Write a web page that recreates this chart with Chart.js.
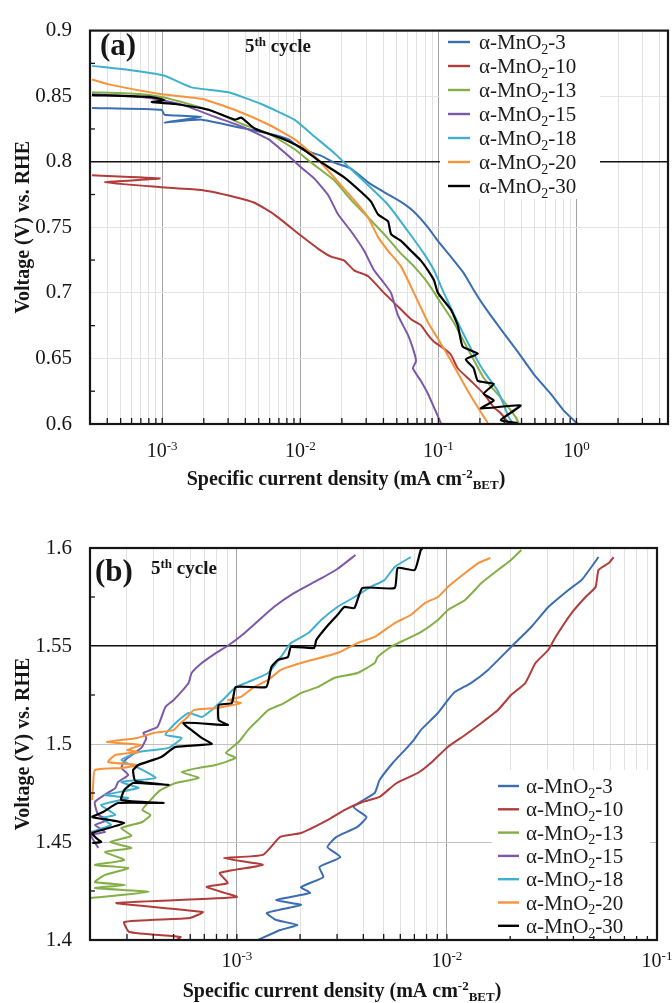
<!DOCTYPE html>
<html>
<head>
<meta charset="utf-8">
<title>alpha-MnO2 polarisation curves</title>
<script src="https://cdn.jsdelivr.net/npm/chart.js@4.4.1/dist/chart.umd.min.js"></script>
<style>
  html, body { margin: 0; padding: 0; background: #fff; }
  .panel { position: absolute; left: 0; width: 672px; }
</style>
</head>
<body>
<div class="panel" style="top:0;height:500px"><canvas id="chartA" width="672" height="500"></canvas></div>
<div class="panel" style="top:500px;height:503px"><canvas id="chartB" width="672" height="503"></canvas></div>
<script>
(() => {
  'use strict'

  // Series (the "2" in MnO2 is drawn as a subscript)
  const seriesLabels = ['α-MnO2-3', 'α-MnO2-10', 'α-MnO2-13', 'α-MnO2-15', 'α-MnO2-18', 'α-MnO2-20', 'α-MnO2-30'];
  const seriesColors = ['#3B6DB3', '#B23C3A', '#84AF47', '#7B58A8', '#40B0CF', '#F7933B', '#000000'];

  // Tick labels
  const voltTicksA = [0.6, 0.65, 0.7, 0.75, 0.8, 0.85, 0.9];
  const voltTicksB = [1.4, 1.45, 1.5, 1.55, 1.6];
  const decadesA = [-3, -2, -1, 0];
  const decadesB = [-3, -2, -1];

  // (a) current density (mA cm-2 BET) and voltage (V vs RHE)
  const a3J = [3.1e-4, 9.9e-4, 1.04e-3, 1.93e-3, 1.04e-3, 1.93e-3, 3.34e-3, 5.87e-3, 8.19e-3, 0.0102, 0.0142, 0.0176, 0.0233, 0.031, 0.0404, 0.0536, 0.0665, 0.084, 0.0992, 0.123, 0.153, 0.180, 0.213, 0.283, 0.375, 0.490, 0.649, 0.806, 1.02];
  const a3V = [0.841, 0.8396, 0.8358, 0.8343, 0.8299, 0.8321, 0.8269, 0.8216, 0.8172, 0.8097, 0.8045, 0.7993, 0.7948, 0.7843, 0.7769, 0.7694, 0.7619, 0.750, 0.7396, 0.7276, 0.7149, 0.7022, 0.6903, 0.6724, 0.6552, 0.6381, 0.6231, 0.6104, 0.6];
  const a10J = [3.1e-4, 9.6e-4, 3.85e-4, 9.9e-4, 1.93e-3, 3.34e-3, 4.66e-3, 6.49e-3, 0.0102, 0.0135, 0.0167, 0.0208, 0.0245, 0.031, 0.0404, 0.0536, 0.0633, 0.0747, 0.084, 0.0929, 0.1096, 0.123, 0.138, 0.172, 0.213, 0.252, 0.283, 0.318];
  const a10V = [0.7896, 0.7873, 0.7843, 0.7806, 0.7784, 0.7731, 0.7687, 0.7597, 0.7433, 0.7336, 0.7276, 0.7246, 0.7172, 0.7127, 0.700, 0.6873, 0.6799, 0.6754, 0.6679, 0.6627, 0.6575, 0.653, 0.6425, 0.6328, 0.6231, 0.6127, 0.6082, 0.6015];
  const a13J = [3.1e-4, 7.11e-4, 9.9e-4, 1.55e-3, 2.39e-3, 3.75e-3, 5.87e-3, 9.05e-3, 0.012, 0.0176, 0.0233, 0.031, 0.0404, 0.0536, 0.0665, 0.084, 0.104, 0.129, 0.163, 0.213, 0.283, 0.363, 0.381];
  const a13V = [0.853, 0.8515, 0.8493, 0.844, 0.838, 0.829, 0.8216, 0.8097, 0.7993, 0.7858, 0.7709, 0.7575, 0.7448, 0.7299, 0.7202, 0.7075, 0.6925, 0.6776, 0.6575, 0.6351, 0.6201, 0.6052, 0.6007];
  const a15J = [3.1e-4, 7.1e-4, 9.9e-4, 1.55e-3, 2.39e-3, 3.75e-3, 5.87e-3, 8.19e-3, 0.0102, 0.0126, 0.0159, 0.0188, 0.0233, 0.029, 0.0342, 0.0404, 0.0454, 0.051, 0.0602, 0.0665, 0.0688, 0.0654, 0.0747, 0.084, 0.0929, 0.1042];
  const a15V = [0.8515, 0.8493, 0.847, 0.8418, 0.8343, 0.8269, 0.8172, 0.8045, 0.7955, 0.7873, 0.7746, 0.7597, 0.747, 0.7321, 0.7172, 0.7075, 0.700, 0.6828, 0.6679, 0.6552, 0.6478, 0.6425, 0.6328, 0.6231, 0.6127, 0.6007];
  const a18J = [3.1e-4, 6.33e-4, 1.03e-3, 1.63e-3, 3.02e-3, 5.22e-3, 9.05e-3, 0.0126, 0.0176, 0.0208, 0.031, 0.0432, 0.0602, 0.0786, 0.0929, 0.1096, 0.138, 0.172, 0.213, 0.269, 0.323, 0.345];
  const a18V = [0.8731, 0.8694, 0.8657, 0.8567, 0.853, 0.844, 0.8321, 0.8194, 0.8067, 0.7993, 0.7821, 0.7672, 0.747, 0.7299, 0.7172, 0.700, 0.6776, 0.6575, 0.6403, 0.6254, 0.6052, 0.6007];
  const a20J = [3.1e-4, 4.11e-4, 9.9e-4, 1.93e-3, 3.34e-3, 5.87e-3, 9.05e-3, 0.0126, 0.0176, 0.0262, 0.031, 0.0366, 0.0432, 0.0536, 0.0665, 0.084, 0.0992, 0.123, 0.163, 0.193, 0.228];
  const a20V = [0.8627, 0.859, 0.8515, 0.848, 0.8396, 0.8284, 0.8172, 0.8045, 0.788, 0.7672, 0.7575, 0.7425, 0.7321, 0.7202, 0.700, 0.6776, 0.665, 0.6485, 0.6254, 0.6127, 0.6007];
  const a30J = [3.1e-4, 8.39e-4, 1.04e-3, 8.4e-4, 1.23e-3, 2.17e-3, 3.34e-3, 3.75e-3, 4.66e-3, 7.29e-3, 0.0102, 0.0135, 0.0208, 0.0276, 0.0326, 0.0366, 0.0432, 0.0454, 0.0536, 0.0633, 0.0747, 0.084, 0.0929, 0.0992, 0.123, 0.138, 0.150, 0.193, 0.158, 0.180, 0.193, 0.252, 0.213, 0.252, 0.203, 0.394, 0.283, 0.375];
  const a30V = [0.8508, 0.8493, 0.847, 0.8455, 0.844, 0.8396, 0.8321, 0.8336, 0.8254, 0.8179, 0.8105, 0.801, 0.7881, 0.7769, 0.7694, 0.7597, 0.7545, 0.7448, 0.7396, 0.7321, 0.7246, 0.7172, 0.7097, 0.700, 0.6873, 0.6754, 0.659, 0.6537, 0.6493, 0.6425, 0.6328, 0.6306, 0.6231, 0.6179, 0.6119, 0.6142, 0.603, 0.6007];

  // (b) current density (mA cm-2 BET) and voltage (V vs RHE)
  const b3J = [1.26e-3, 1.61e-3, 1.94e-3, 1.54e-3, 1.39e-3, 2.02e-3, 1.54e-3, 2.23e-3, 2.02e-3, 2.58e-3, 2.47e-3, 3.11e-3, 2.70e-3, 2.98e-3, 3.75e-3, 4.14e-3, 3.59e-3, 4.53e-3, 4.78e-3, 5.52e-3, 6.30e-3, 6.95e-3, 7.51e-3, 9.06e-3, 0.0101, 0.0109, 0.0130, 0.0157, 0.0202, 0.0252, 0.0304, 0.0379, 0.0438, 0.0527];
  const b3V = [1.4, 1.4051, 1.4077, 1.4102, 1.4138, 1.4179, 1.4204, 1.424, 1.427, 1.4321, 1.4372, 1.4423, 1.4474, 1.4526, 1.4577, 1.4628, 1.4679, 1.475, 1.4816, 1.4903, 1.4969, 1.502, 1.5071, 1.5158, 1.5224, 1.5265, 1.5311, 1.5378, 1.5495, 1.5597, 1.5699, 1.5786, 1.5837, 1.5954];
  const b10J = [5.16e-4, 5.40e-4, 3.08e-4, 2.91e-4, 5.96e-4, 6.88e-4, 2.67e-4, 1.0e-3, 7.18e-4, 9.06e-4, 8.29e-4, 1.33e-3, 8.67e-4, 1.33e-3, 1.61e-3, 2.02e-3, 2.70e-3, 3.25e-3, 3.96e-3, 4.78e-3, 5.76e-3, 7.26e-3, 8.38e-3, 0.0101, 0.0122, 0.0146, 0.0175, 0.0202, 0.0236, 0.0264, 0.0304, 0.0329, 0.0392, 0.0457, 0.0510, 0.0527, 0.0589, 0.0622];
  const b10V = [1.4, 1.4015, 1.4041, 1.4092, 1.4112, 1.4143, 1.4189, 1.4219, 1.427, 1.4291, 1.4342, 1.4383, 1.4418, 1.4434, 1.4526, 1.4546, 1.4612, 1.4663, 1.4704, 1.473, 1.4801, 1.4852, 1.4903, 1.4985, 1.5046, 1.5107, 1.5173, 1.525, 1.5311, 1.5413, 1.548, 1.5546, 1.5668, 1.575, 1.5801, 1.5888, 1.5923, 1.5954];
  const b13J = [2.02e-4, 3.79e-4, 2.11e-4, 2.94e-4, 2.11e-4, 2.36e-4, 3.04e-4, 2.11e-4, 2.91e-4, 2.36e-4, 3.15e-4, 2.49e-4, 3.15e-4, 2.82e-4, 3.55e-4, 3.88e-4, 3.55e-4, 3.88e-4, 4.33e-4, 5.11e-4, 6.58e-4, 5.46e-4, 6.58e-4, 7.94e-4, 9.89e-4, 8.86e-4, 1.02e-3, 1.13e-3, 1.26e-3, 1.41e-3, 1.68e-3, 2.02e-3, 2.44e-3, 2.91e-3, 3.75e-3, 4.53e-3, 4.68e-3, 5.40e-3, 6.30e-3, 7.51e-3, 9.06e-3, 0.0101, 0.0122, 0.0146, 0.0175, 0.0202, 0.0226];
  const b13V = [1.4214, 1.4245, 1.4265, 1.4281, 1.4296, 1.4332, 1.4367, 1.4383, 1.4408, 1.4449, 1.4469, 1.45, 1.4531, 1.4571, 1.4602, 1.4638, 1.4663, 1.4714, 1.4765, 1.4801, 1.4827, 1.4857, 1.4878, 1.4893, 1.4929, 1.4954, 1.501, 1.5071, 1.5122, 1.5173, 1.5209, 1.526, 1.5291, 1.5337, 1.5362, 1.5413, 1.5444, 1.5495, 1.5531, 1.5571, 1.5633, 1.5684, 1.5735, 1.5821, 1.5888, 1.5939, 1.599];
  const b15J = [2.19e-4, 2.02e-4, 2.36e-4, 2.11e-4, 2.44e-4, 2.19e-4, 2.11e-4, 2.64e-4, 2.72e-4, 3.04e-4, 2.82e-4, 2.94e-4, 3.51e-4, 3.71e-4, 3.59e-4, 4.19e-4, 4.57e-4, 5.0e-4, 5.89e-4, 6.09e-4, 6.81e-4, 7.94e-4, 9.16e-4, 1.06e-3, 1.23e-3, 1.50e-3, 1.87e-3, 2.44e-3, 3.01e-3, 3.67e-3];
  const b15V = [1.4469, 1.4536, 1.4551, 1.4587, 1.4612, 1.4638, 1.4704, 1.4776, 1.4806, 1.4842, 1.4878, 1.4918, 1.498, 1.5031, 1.5056, 1.5087, 1.5189, 1.5224, 1.5311, 1.5362, 1.5413, 1.5464, 1.5505, 1.5556, 1.5617, 1.5699, 1.577, 1.5837, 1.5893, 1.5964];
  const b18J = [2.02e-4, 2.52e-4, 2.26e-4, 2.64e-4, 2.26e-4, 3.04e-4, 2.36e-4, 3.40e-4, 2.82e-4, 4.10e-4, 3.40e-4, 2.82e-4, 3.40e-4, 4.73e-4, 5.46e-4, 4.57e-4, 5.11e-4, 5.89e-4, 6.81e-4, 7.59e-4, 8.86e-4, 9.89e-4, 1.13e-3, 1.41e-3, 1.62e-3, 1.81e-3, 2.19e-3, 2.52e-3, 3.01e-3, 3.63e-3, 4.33e-3, 5.05e-3, 5.64e-3, 6.73e-3];
  const b18V = [1.4551, 1.4587, 1.4622, 1.4638, 1.4689, 1.4724, 1.474, 1.4776, 1.4806, 1.4827, 1.4878, 1.4918, 1.4959, 1.498, 1.5031, 1.5046, 1.5107, 1.5158, 1.5138, 1.5173, 1.524, 1.5291, 1.5316, 1.5362, 1.5444, 1.5515, 1.5566, 1.5633, 1.5699, 1.575, 1.5801, 1.5837, 1.5903, 1.5954];
  const b20J = [2.05e-4, 2.07e-4, 2.11e-4, 2.82e-4, 3.40e-4, 2.44e-4, 2.64e-4, 3.40e-4, 3.01e-4, 3.48e-4, 2.41e-4, 3.36e-4, 4.01e-4, 5.0e-4, 5.40e-4, 5.83e-4, 6.23e-4, 8.11e-4, 1.045e-3, 9.06e-4, 1.045e-3, 1.21e-3, 1.41e-3, 1.62e-3, 2.02e-3, 3.01e-3, 3.75e-3, 4.53e-3, 5.64e-3, 6.73e-3, 7.85e-3, 9.06e-3, 0.0101, 0.0122, 0.0141, 0.0161];
  const b20V = [1.4714, 1.4791, 1.4867, 1.4878, 1.4893, 1.4908, 1.4944, 1.4959, 1.4969, 1.4995, 1.501, 1.5031, 1.5056, 1.5071, 1.5107, 1.5138, 1.5173, 1.5184, 1.5209, 1.5224, 1.524, 1.5291, 1.5327, 1.5378, 1.5413, 1.5464, 1.5515, 1.5546, 1.5617, 1.5658, 1.5719, 1.575, 1.5801, 1.5872, 1.5923, 1.5949];
  const b30J = [2.05e-4, 2.26e-4, 2.14e-4, 2.05e-4, 2.91e-4, 2.05e-4, 2.31e-4, 2.72e-4, 4.48e-4, 2.82e-4, 2.91e-4, 3.21e-4, 4.73e-4, 3.29e-4, 3.21e-4, 3.40e-4, 4.37e-4, 5.11e-4, 7.59e-4, 6.81e-4, 5.57e-4, 9.06e-4, 8.20e-4, 8.20e-4, 9.46e-4, 9.89e-4, 1.38e-3, 1.46e-3, 1.57e-3, 1.75e-3, 1.81e-3, 2.33e-3, 2.39e-3, 2.72e-3, 3.01e-3, 3.25e-3, 3.63e-3, 3.96e-3, 5.64e-3, 5.83e-3, 7.03e-3, 7.51e-3, 7.85e-3];
  const b30V = [1.4495, 1.45, 1.452, 1.4546, 1.4597, 1.4628, 1.4653, 1.4699, 1.4699, 1.4714, 1.4765, 1.4801, 1.4791, 1.4811, 1.4867, 1.4893, 1.4934, 1.4985, 1.50, 1.5031, 1.5107, 1.5097, 1.5122, 1.5199, 1.5209, 1.5291, 1.5291, 1.5393, 1.5429, 1.5444, 1.5495, 1.549, 1.5531, 1.5607, 1.5658, 1.5699, 1.5694, 1.5796, 1.5796, 1.5898, 1.5888, 1.599, 1.601];

  const FONT = '"Liberation Serif", "Times New Roman", serif';
  const INK = '#161616';

  const mant = v => v / Math.pow(10, Math.floor(Math.log10(v) + 1e-9));
  const isWhole = m => Math.abs(m - Math.round(m)) < 1e-6;
  const near = (a, b) => Math.abs(a - b) < 1e-6;

  // text with super/subscript parts: [[text, ''|'sup'|'sub'], ...]
  function drawRich(ctx, parts, x, yMid, size, weight, align) {
    const small = Math.round(size * 0.66);
    const fontOf = m => `${weight} ${m ? small : size}px ${FONT}`;
    let w = 0;
    parts.forEach(([t, m]) => { ctx.font = fontOf(m); w += ctx.measureText(t).width; });
    let cx = align === 'center' ? x - w / 2 : (align === 'right' ? x - w : x);
    const base = yMid + size * 0.34;
    ctx.textAlign = 'left';
    ctx.textBaseline = 'alphabetic';
    parts.forEach(([t, m]) => {
      ctx.font = fontOf(m);
      const dy = m === 'sup' ? -size * 0.36 : (m === 'sub' ? size * 0.22 : 0);
      ctx.fillText(t, cx, base + dy);
      cx += ctx.measureText(t).width;
    });
  }

  const legendParts = name => {
    const i = name.indexOf('MnO2');
    return [[name.slice(0, i + 3), ''], ['2', 'sub'], [name.slice(i + 4), '']];
  };

  function makeDecor(p) {
    return {
      id: 'decor',
      afterDraw(chart) {
        const ctx = chart.ctx, a = chart.chartArea;
        const xs = chart.scales.x, ys = chart.scales.y;
        ctx.save();
        ctx.strokeStyle = INK;
        ctx.lineWidth = 1.3;
        // inward tick marks, bottom axis
        xs.ticks.forEach(t => {
          if (!isWhole(mant(t.value))) return;
          const px = xs.getPixelForValue(t.value);
          if (px <= a.left + 1 || px >= a.right - 1) return;
          ctx.beginPath(); ctx.moveTo(px, a.bottom); ctx.lineTo(px, a.bottom - 6); ctx.stroke();
        });
        // half-step marks, left axis
        for (let k = 0; k < p.yTicks.length - 1; k++) {
          const py = ys.getPixelForValue((p.yTicks[k] + p.yTicks[k + 1]) / 2);
          ctx.beginPath(); ctx.moveTo(a.left, py); ctx.lineTo(a.left + 5, py); ctx.stroke();
        }
        // legend
        const L = p.legend;
        ctx.fillStyle = '#fff';
        ctx.fillRect(L.x, L.y, L.w, L.h);
        seriesLabels.forEach((name, i) => {
          const cy = L.rowY + i * L.rowH;
          ctx.strokeStyle = seriesColors[i];
          ctx.lineWidth = 2.4;
          ctx.beginPath(); ctx.moveTo(L.lineX, cy); ctx.lineTo(L.lineX + L.lineW, cy); ctx.stroke();
          ctx.fillStyle = '#1a1a1a';
          drawRich(ctx, legendParts(name), L.textX, cy, 21, 'normal', 'left');
        });
        // frame
        ctx.strokeStyle = INK;
        ctx.lineWidth = 2.2;
        ctx.strokeRect(a.left, a.top, a.right - a.left, a.bottom - a.top);
        // decade labels
        ctx.fillStyle = INK;
        p.decades.forEach(e => {
          drawRich(ctx, [['10', ''], [String(e), 'sup']], xs.getPixelForValue(Math.pow(10, e)), p.xLabelY, 20, 'normal', 'center');
        });
        // axis titles
        drawRich(ctx, [['Specific current density (mA cm', ''], ['-2', 'sup'], ['BET', 'sub'], [')', '']], p.titleX, p.titleY, 20, 'bold', 'center');
        ctx.save();
        ctx.translate(22, (a.top + a.bottom) / 2);
        ctx.rotate(-Math.PI / 2);
        drawRich(ctx, [['Voltage (V) vs. RHE', '']], 0, 0, 20, 'bold', 'center');
        ctx.restore();
        // panel tag and cycle note
        drawRich(ctx, [[p.tag, '']], p.tagX, p.tagY, 31, 'bold', 'left');
        drawRich(ctx, [['5', ''], ['th', 'sup'], [' cycle', '']], p.cycleX, p.cycleY, 19, 'bold', 'left');
        ctx.restore();
      }
    };
  }

  function buildChart(canvasId, p) {
    const datasets = p.series.map(([js, vs], i) => ({
      label: seriesLabels[i],
      data: js.map((x, k) => ({ x, y: vs[k] })),
      borderColor: seriesColors[i],
      backgroundColor: seriesColors[i],
      borderWidth: i === 6 ? 2.2 : 2,
      showLine: true,
      pointRadius: 0,
      tension: 0.15,
      order: seriesLabels.length - i
    }));

    return new Chart(document.getElementById(canvasId), {
      type: 'scatter',
      data: { datasets },
      options: {
        responsive: false,
        animation: false,
        devicePixelRatio: 1,
        events: [],
        layout: { padding: p.pad },
        plugins: { legend: { display: false }, tooltip: { enabled: false } },
        scales: {
          x: {
            type: 'logarithmic',
            min: p.xMin,
            max: p.xMax,
            afterFit: s => { s.height = p.xAxisH; s.paddingLeft = 0; s.paddingRight = 0; },
            ticks: { autoSkip: false, maxRotation: 0, minRotation: 0, padding: 0, callback: () => '' },
            grid: {
              drawTicks: false,
              color: c => {
                const v = c.tick && c.tick.value;
                if (!v || !isWhole(mant(v))) return 'rgba(0,0,0,0)';
                return near(mant(v), 1) ? '#a3a3a3' : '#e2e2e2';
              }
            },
            border: { display: false }
          },
          y: {
            min: p.yMin,
            max: p.yMax,
            afterBuildTicks: s => { s.ticks = p.yTicks.map(value => ({ value })); },
            afterFit: s => { s.width = 90; },
            ticks: {
              padding: 18,
              color: INK,
              font: { family: FONT, size: 21 },
              callback: v => String(Math.round(v * 100) / 100)
            },
            grid: {
              drawTicks: false,
              color: c => {
                const v = c.tick && c.tick.value;
                if (near(v, p.darkY)) return '#111';
                if (p.midY.some(m => near(m, v))) return '#c2c2c2';
                return '#e4e4e4';
              },
              lineWidth: c => (c.tick && near(c.tick.value, p.darkY)) ? 1.4 : 1
            },
            border: { display: false }
          }
        }
      },
      plugins: [makeDecor(p)]
    });
  }

  buildChart('chartA', {
    series: [[a3J, a3V], [a10J, a10V], [a13J, a13V], [a15J, a15V], [a18J, a18V], [a20J, a20V], [a30J, a30V]],
    xMin: 3.1e-4, xMax: 4.6, yMin: 0.6, yMax: 0.9, yTicks: voltTicksA, decades: decadesA,
    pad: { top: 22, right: 4, bottom: 0, left: 0 }, xAxisH: 76,
    darkY: 0.8, midY: [],
    tag: '(a)', tagX: 100, tagY: 44, cycleX: 245, cycleY: 46,
    xLabelY: 450, titleX: 346, titleY: 478,
    legend: { x: 440, y: 27, w: 160, h: 172, lineX: 448, lineW: 22, textX: 479, rowY: 42, rowH: 24 }
  });

  buildChart('chartB', {
    series: [[b3J, b3V], [b10J, b10V], [b13J, b13V], [b15J, b15V], [b18J, b18V], [b20J, b20V], [b30J, b30V]],
    xMin: 2e-4, xMax: 0.1, yMin: 1.4, yMax: 1.6, yTicks: voltTicksB, decades: decadesB,
    pad: { top: 48, right: 15, bottom: 0, left: 0 }, xAxisH: 63,
    darkY: 1.55, midY: [1.5, 1.45],
    tag: '(b)', tagX: 95, tagY: 70, cycleX: 151, cycleY: 68,
    xLabelY: 460, titleX: 342, titleY: 490,
    legend: { x: 492, y: 270, w: 158, h: 166, lineX: 498, lineW: 21, textX: 526, rowY: 286, rowH: 23.3 }
  });
})()
</script>
</body>
</html>
